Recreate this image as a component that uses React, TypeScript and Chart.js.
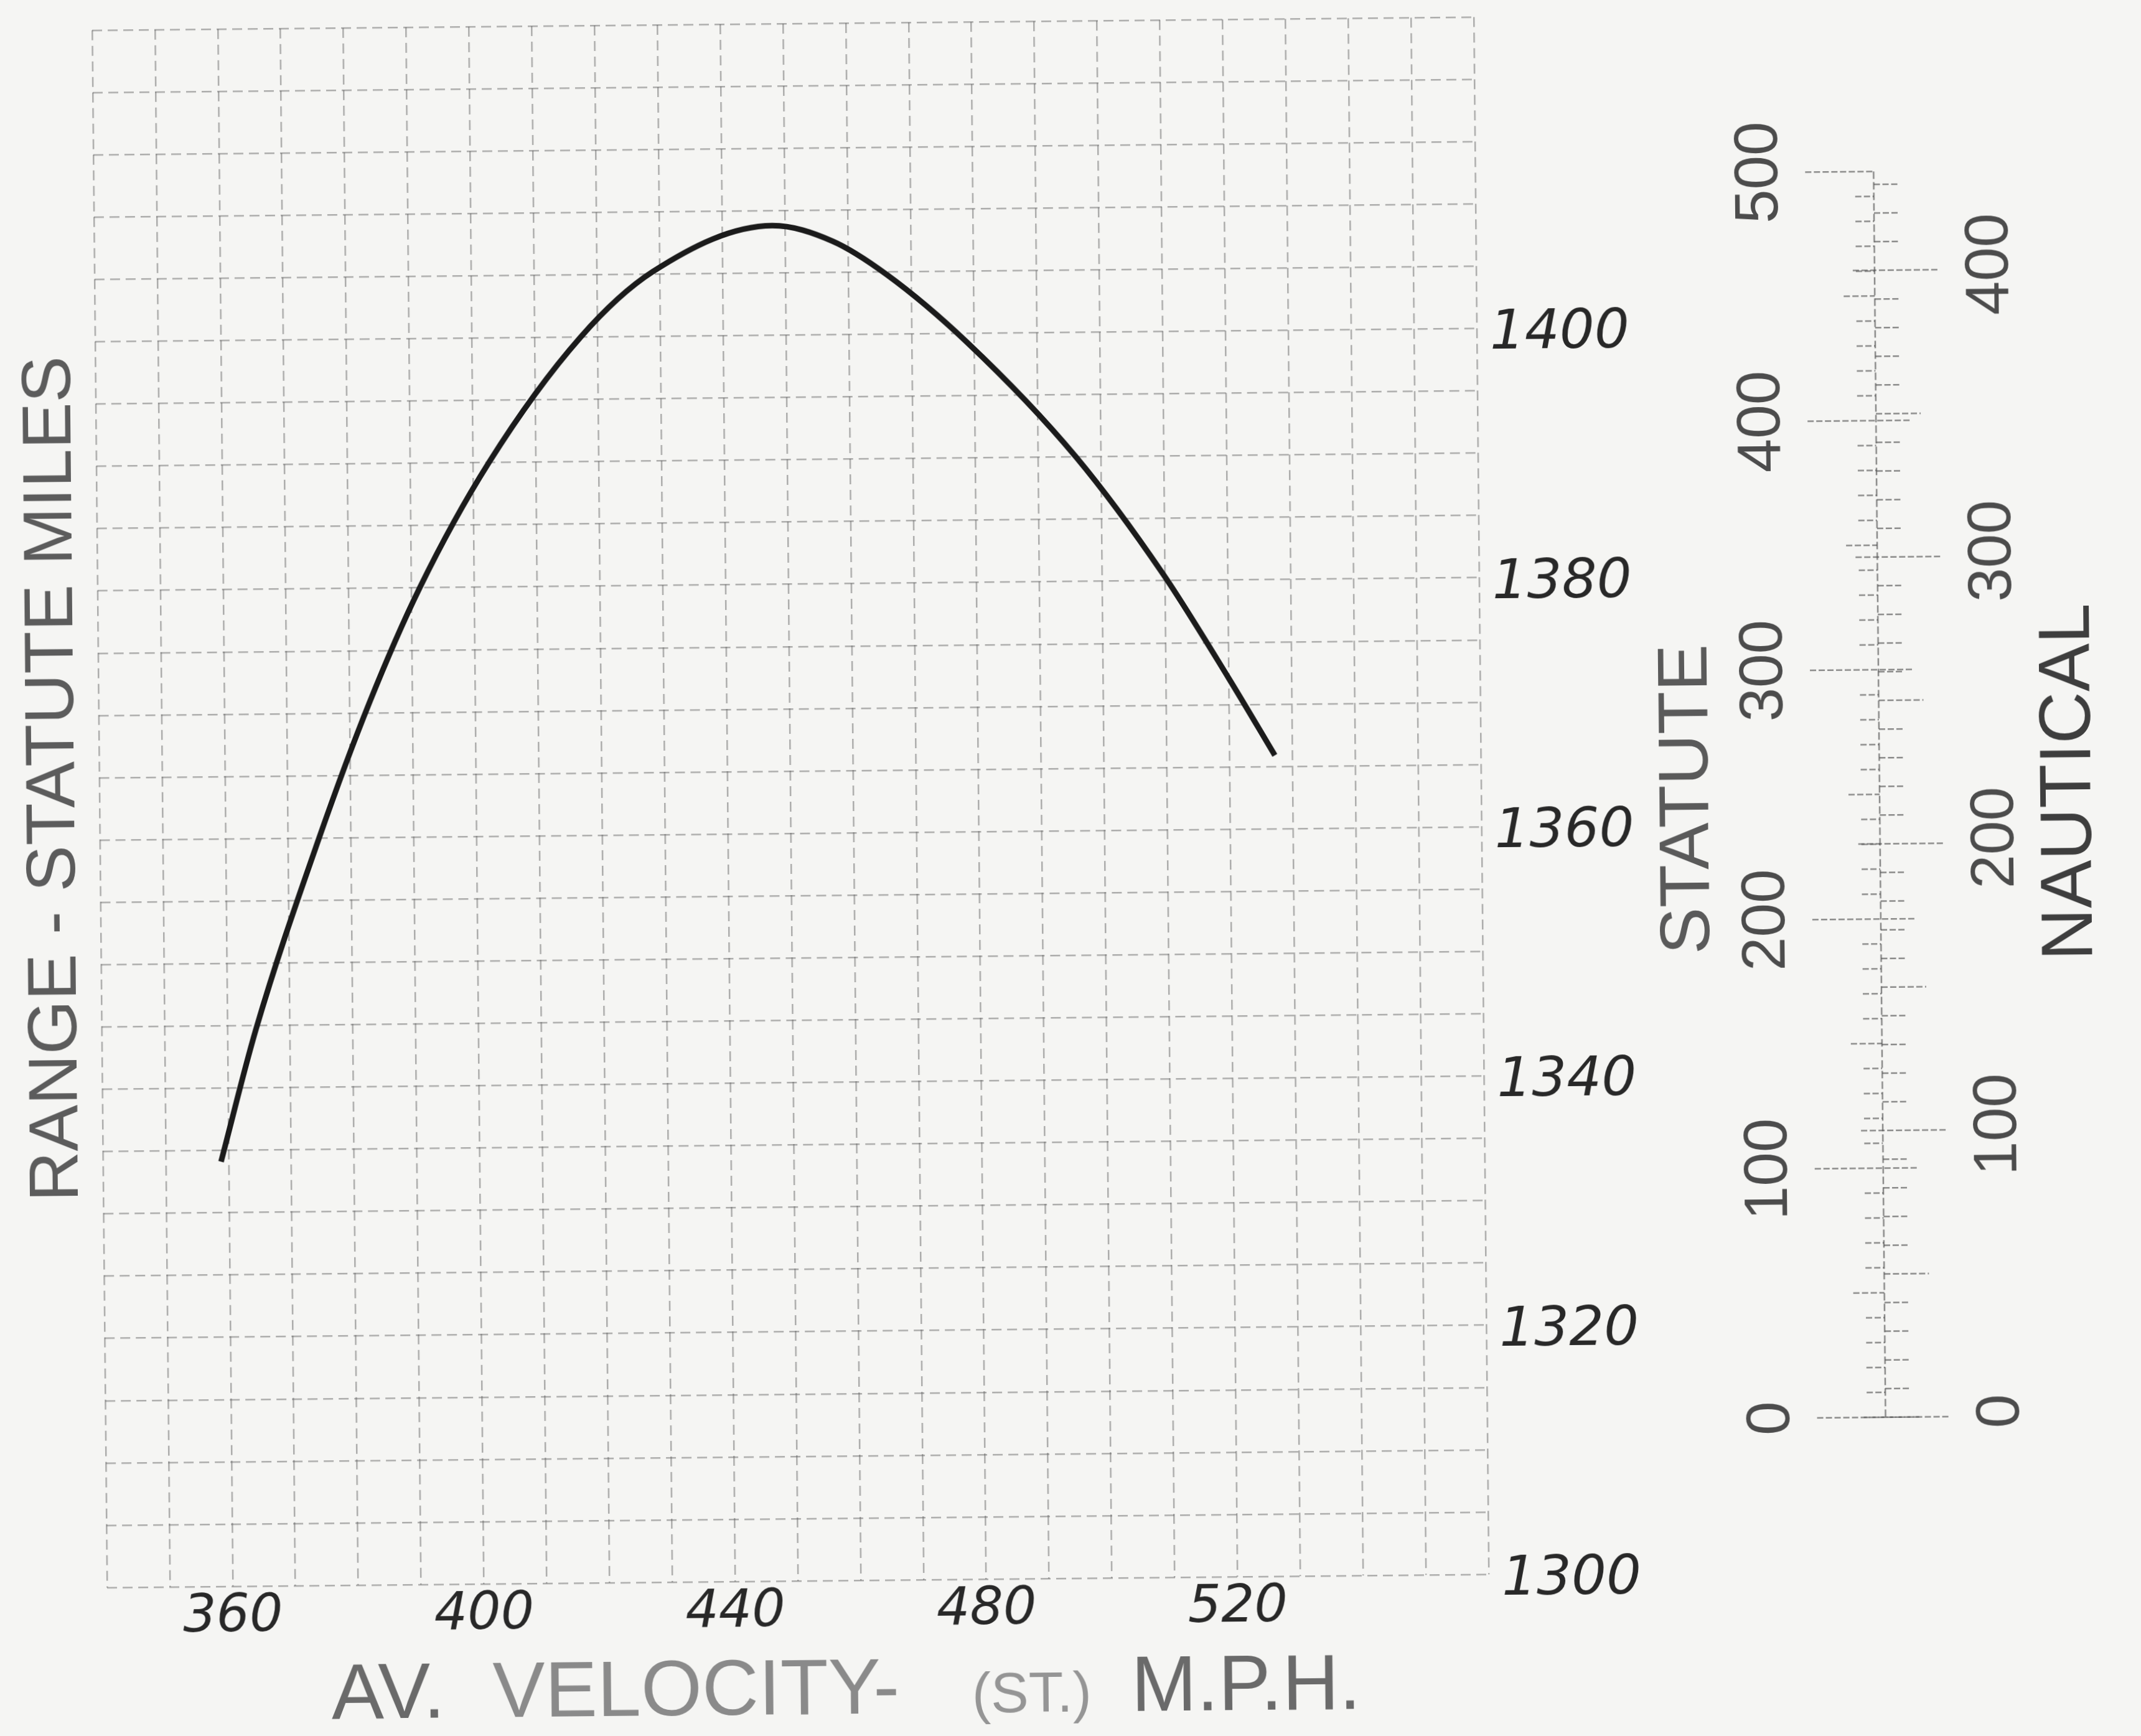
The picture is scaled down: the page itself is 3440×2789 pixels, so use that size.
import React, { useEffect, useRef } from 'react';
import { Chart, registerables } from 'chart.js';

Chart.register(...registerables);

// ---------------- data ----------------
const velocity = [
  358.8, 364.5, 374.9, 383.1, 391.3, 402.5, 417.3, 428.9, 448.0, 457.6, 466.1, 478.8, 496.0, 509.6, 520.0, 527.2,
];
const rangeMiles = [
  1334.1, 1344.6, 1360.0, 1370.8, 1380.0, 1390.0, 1400.0, 1405.2, 1408.8, 1407.5, 1404.8, 1399.3, 1390.0, 1380.6, 1372.1, 1365.9,
];
const xTickLabels = [360, 400, 440, 480, 520];
const yTickLabels = [1300, 1320, 1340, 1360, 1380, 1400];
const statuteLabels = [0, 100, 200, 300, 400, 500];
const nauticalLabels = [0, 100, 200, 300, 400];

// axis ranges / grid steps
const X_MIN = 340;
const X_MAX = 560;
const X_GRID = 10;
const Y_MIN = 1300;
const Y_MAX = 1425;
const Y_GRID = 5;

// scale bar (statute / nautical) mapping onto the range axis
const STATUTE_ZERO_RANGE = 1312.3;
const RANGE_PER_STATUTE = 0.2;
const STATUTE_PER_NAUTICAL = 1.15078;
const STATUTE_BAR_MAX = 500;
const BAR_TICK_STEP = 10;

// ---------------- layout / style constants ----------------
const W = 3440;
const H = 2789;
const AREA = { left: 160, right: 2380, top: 38, bottom: 2540 };
const PAPER = '#f5f5f3';
const GRID_COLOR = 'rgba(100,100,100,0.5)';
const BAR_X = 3020;
const STATUTE_LABEL_X = 2838;
const NAUTICAL_LABEL_X = 3207;

function steps(min: number, max: number, step: number): number[] {
  const out: number[] = [];
  for (let v = min; v <= max + 1e-9; v += step) out.push(Math.round(v * 1000) / 1000);
  return out;
}

function rotText(ctx: CanvasRenderingContext2D, text: string, x: number, y: number, font: string, color: string) {
  ctx.save();
  ctx.translate(x, y);
  ctx.rotate(-Math.PI / 2);
  ctx.font = font;
  ctx.fillStyle = color;
  ctx.textAlign = 'center';
  ctx.textBaseline = 'middle';
  ctx.fillText(text, 0, 0);
  ctx.restore();
}

const paperPlugin = {
  id: 'paperText',
  afterDraw(chart: any) {
    const ctx: CanvasRenderingContext2D = chart.ctx;
    const st = chart.scales.statute;
    const na = chart.scales.nautical;
    ctx.save();

    // ---- scale bar ----
    ctx.strokeStyle = 'rgba(80,80,80,0.65)';
    ctx.lineWidth = 2.5;
    ctx.setLineDash([12, 5]);
    const yTop = st.getPixelForValue(STATUTE_BAR_MAX);
    const yBot = st.getPixelForValue(0);
    const seg = (x1: number, y1: number, x2: number, y2: number) => {
      ctx.beginPath();
      ctx.moveTo(x1, y1);
      ctx.lineTo(x2, y2);
      ctx.stroke();
    };
    seg(BAR_X, yTop, BAR_X, yBot);
    ctx.setLineDash([10, 4]);
    for (const s of steps(0, STATUTE_BAR_MAX, BAR_TICK_STEP)) {
      const y = st.getPixelForValue(s);
      if (s % 100 === 0) seg(BAR_X - 110, y, BAR_X + (s === STATUTE_BAR_MAX ? 0 : 55), y);
      else if (s % 50 === 0) seg(BAR_X - 50, y, BAR_X, y);
      else seg(BAR_X - 30, y, BAR_X, y);
    }
    const naMax = STATUTE_BAR_MAX / STATUTE_PER_NAUTICAL;
    for (const n of steps(0, naMax, BAR_TICK_STEP)) {
      const y = na.getPixelForValue(n);
      if (n % 100 === 0) seg(BAR_X - 35, y, BAR_X + 105, y);
      else if (n % 50 === 0) seg(BAR_X, y, BAR_X + 72, y);
      else seg(BAR_X, y, BAR_X + 38, y);
    }
    ctx.setLineDash([]);

    const numFont = '98px "Liberation Sans", Arial, sans-serif';
    for (const s of statuteLabels) {
      rotText(ctx, String(s), STATUTE_LABEL_X, st.getPixelForValue(s), numFont, '#4c4c4c');
    }
    for (const n of nauticalLabels) {
      rotText(ctx, String(n), NAUTICAL_LABEL_X, na.getPixelForValue(n) - 8, numFont, '#4c4c4c');
    }
    rotText(ctx, 'STATUTE', 2713, 1298, '113px "Liberation Sans", Arial, sans-serif', '#5a5a5a');
    rotText(ctx, 'NAUTICAL', 3327, 1276, '116px "Liberation Sans", Arial, sans-serif', '#3e3e3e');

    // ---- left axis title ----
    rotText(ctx, 'RANGE - STATUTE MILES', 88, 1240, '112px "Liberation Sans", Arial, sans-serif', '#5c5c5c');

    // ---- bottom axis title ----
    const parts: [string, number, string, number][] = [
      ['AV.', 1, '#6a6a6a', 519],
      ['VELOCITY-', 1, '#8a8a8a', 778],
      ['(ST.)', 0.72, '#959595', 1548],
      ['M.P.H.', 1, '#6a6a6a', 1804],
    ];
    const base = 126;
    ctx.textBaseline = 'alphabetic';
    ctx.textAlign = 'left';
    for (const [t, k, c, x] of parts) {
      ctx.font = `${Math.round(base * k)}px "Liberation Sans", Arial, sans-serif`;
      ctx.fillStyle = c;
      ctx.fillText(t, x, 2754);
    }

    ctx.restore();
  },
};

export default function App() {
  const ref = useRef<HTMLCanvasElement | null>(null);

  useEffect(() => {
    if (!ref.current) return;
    const tickFontX = { family: '"DejaVu Sans", sans-serif', size: 84, style: 'italic' as const };
    const tickFontY = { family: '"DejaVu Sans", sans-serif', size: 88, style: 'italic' as const };
    const chart = new Chart(ref.current, {
      type: 'line',
      data: {
        datasets: [
          {
            data: velocity.map((v, i) => ({ x: v, y: rangeMiles[i] })),
            borderColor: '#1b1b1b',
            borderWidth: 9,
            pointRadius: 0,
            fill: false,
            cubicInterpolationMode: 'monotone',
            xAxisID: 'x',
            yAxisID: 'y',
          },
        ],
      },
      options: {
        responsive: false,
        maintainAspectRatio: false,
        animation: false,
        events: [],
        layout: { padding: { left: AREA.left, top: AREA.top, right: 0, bottom: 0 } },
        plugins: {
          legend: { display: false },
          tooltip: { enabled: false },
          title: { display: false },
        },
        scales: {
          x: {
            type: 'linear',
            position: 'bottom',
            min: X_MIN,
            max: X_MAX,
            afterBuildTicks: (s: any) => {
              s.ticks = steps(X_MIN, X_MAX, X_GRID).map((value) => ({ value }));
            },
            afterFit: (s: any) => {
              s.height = H - AREA.bottom;
              s.paddingLeft = 0;
              s.paddingRight = 0;
            },
            ticks: {
              autoSkip: false,
              maxRotation: 0,
              minRotation: 0,
              padding: 0,
              color: '#282828',
              font: tickFontX,
              callback: (v: any) => (xTickLabels.includes(Number(v)) ? String(v) : ''),
            },
            grid: { color: GRID_COLOR, lineWidth: 2.5, drawTicks: false },
            border: { display: false, dash: [16, 9] },
          },
          y: {
            type: 'linear',
            position: 'right',
            min: Y_MIN,
            max: Y_MAX,
            afterBuildTicks: (s: any) => {
              s.ticks = steps(Y_MIN, Y_MAX, Y_GRID).map((value) => ({ value }));
            },
            afterFit: (s: any) => {
              s.width = W - AREA.right;
              s.paddingTop = 0;
              s.paddingBottom = 0;
            },
            ticks: {
              autoSkip: false,
              padding: 21,
              labelOffset: 10,
              crossAlign: 'near',
              color: '#282828',
              font: tickFontY,
              callback: (v: any) => (yTickLabels.includes(Number(v)) ? String(v) : ''),
            },
            grid: { color: GRID_COLOR, lineWidth: 2.5, drawTicks: false },
            border: { display: false, dash: [16, 9] },
          },
          statute: {
            type: 'linear',
            display: false,
            position: 'right',
            min: (Y_MIN - STATUTE_ZERO_RANGE) / RANGE_PER_STATUTE,
            max: (Y_MAX - STATUTE_ZERO_RANGE) / RANGE_PER_STATUTE,
          },
          nautical: {
            type: 'linear',
            display: false,
            position: 'right',
            min: (Y_MIN - STATUTE_ZERO_RANGE) / RANGE_PER_STATUTE / STATUTE_PER_NAUTICAL,
            max: (Y_MAX - STATUTE_ZERO_RANGE) / RANGE_PER_STATUTE / STATUTE_PER_NAUTICAL,
          },
        },
      } as any,
      plugins: [paperPlugin as any],
    });
    return () => chart.destroy();
  }, []);

  return (
    <div
      style={{
        position: 'fixed',
        left: 0,
        top: 0,
        width: W,
        height: H,
        background: PAPER,
        overflow: 'hidden',
      }}
    >
      <canvas
        ref={ref}
        width={W}
        height={H}
        style={{
          display: 'block',
          width: W + 'px',
          height: H + 'px',
          transform: 'rotate(-0.55deg)',
          transformOrigin: '1270px 1289px',
        }}
      />
    </div>
  );
}
